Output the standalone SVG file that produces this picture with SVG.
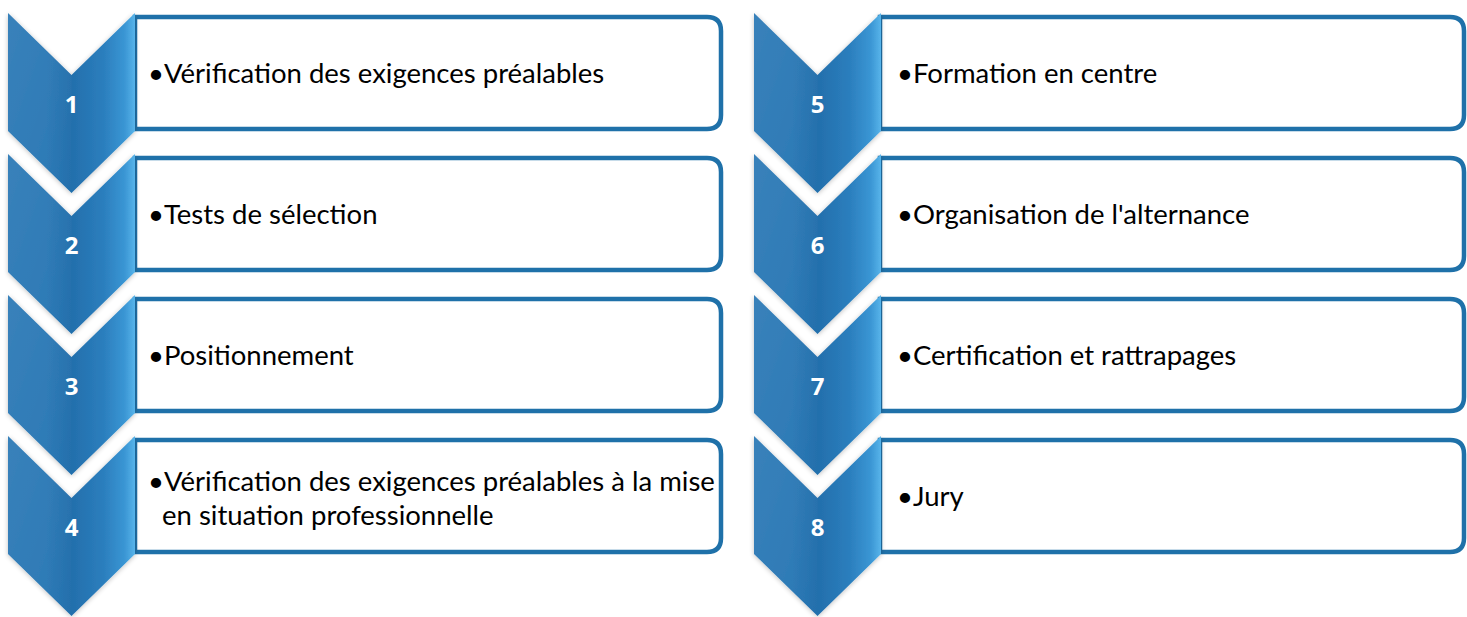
<svg xmlns="http://www.w3.org/2000/svg" width="1467" height="617" viewBox="0 0 1467 617">
<defs>
<linearGradient id="chev" x1="0" y1="0" x2="1" y2="0">
<stop offset="0" stop-color="#2A78B5"/>
<stop offset="0.3" stop-color="#2A78B5"/>
<stop offset="0.5" stop-color="#236FAC"/>
<stop offset="0.75" stop-color="#2B7EBD"/>
<stop offset="0.92" stop-color="#3A96D4"/>
<stop offset="1" stop-color="#58B4EA"/>
</linearGradient>
<linearGradient id="facet" x1="0" y1="0" x2="1" y2="1">
<stop offset="0" stop-color="#ffffff" stop-opacity="0.07"/>
<stop offset="1" stop-color="#ffffff" stop-opacity="0"/>
</linearGradient>
<path id="chevShape" d="M0,0 L63.5,62 L127,0 L127,118 L63.5,180 L0,118 Z"/>
<filter id="glow" x="-20%" y="-20%" width="140%" height="140%">
<feGaussianBlur in="SourceAlpha" stdDeviation="2.5"/>
<feOffset dx="0" dy="1"/>
<feComponentTransfer><feFuncA type="linear" slope="0.25"/></feComponentTransfer>
<feMerge><feMergeNode/><feMergeNode in="SourceGraphic"/></feMerge>
</filter>
</defs>
<style>
.box{fill:#ffffff;stroke:#1F71A9;stroke-width:4.5}
.chev{fill:url(#chev)}
.num{font-family:"Open Sans","Liberation Sans",sans-serif;font-weight:bold;font-size:24px;fill:#ffffff;text-anchor:middle}
.txt{font-family:"Lato","Open Sans",sans-serif;font-size:27.5px;fill:#000000}
</style>
<g id="connectors"></g>

<g id="step1">
<path class="box" d="M135,17 H707 Q721,17 721,31 V115 Q721,129 707,129 H135 Z"/>
<g transform="translate(8,13)" filter="url(#glow)"><use href="#chevShape" class="chev"/><path d="M0,0 L63.5,62 L63.5,180 L0,118 Z" fill="url(#facet)"/></g>
<text class="num" x="71.5" y="113">1</text>
<text class="txt" x="148" y="83">•Vérification des exigences préalables</text>
</g>
<g id="step2">
<path class="box" d="M135,158 H707 Q721,158 721,172 V256 Q721,270 707,270 H135 Z"/>
<g transform="translate(8,154)" filter="url(#glow)"><use href="#chevShape" class="chev"/><path d="M0,0 L63.5,62 L63.5,180 L0,118 Z" fill="url(#facet)"/></g>
<text class="num" x="71.5" y="254">2</text>
<text class="txt" x="148" y="224">•Tests de sélection</text>
</g>
<g id="step3">
<path class="box" d="M135,299 H707 Q721,299 721,313 V397 Q721,411 707,411 H135 Z"/>
<g transform="translate(8,295)" filter="url(#glow)"><use href="#chevShape" class="chev"/><path d="M0,0 L63.5,62 L63.5,180 L0,118 Z" fill="url(#facet)"/></g>
<text class="num" x="71.5" y="395">3</text>
<text class="txt" x="148" y="365">•Positionnement</text>
</g>
<g id="step4">
<path class="box" d="M135,440 H707 Q721,440 721,454 V538 Q721,552 707,552 H135 Z"/>
<g transform="translate(8,436)" filter="url(#glow)"><use href="#chevShape" class="chev"/><path d="M0,0 L63.5,62 L63.5,180 L0,118 Z" fill="url(#facet)"/></g>
<text class="num" x="71.5" y="536">4</text>
<text class="txt" x="148" y="491">•Vérification des exigences préalables à la mise</text>
<text class="txt" x="162" y="525">en situation professionnelle</text>
</g>

<g id="step5">
<path class="box" d="M880,17 H1450 Q1464,17 1464,31 V115 Q1464,129 1450,129 H880 Z"/>
<g transform="translate(754,13)" filter="url(#glow)"><use href="#chevShape" class="chev"/><path d="M0,0 L63.5,62 L63.5,180 L0,118 Z" fill="url(#facet)"/></g>
<text class="num" x="817.5" y="113">5</text>
<text class="txt" x="897" y="83">•Formation en centre</text>
</g>
<g id="step6">
<path class="box" d="M880,158 H1450 Q1464,158 1464,172 V256 Q1464,270 1450,270 H880 Z"/>
<g transform="translate(754,154)" filter="url(#glow)"><use href="#chevShape" class="chev"/><path d="M0,0 L63.5,62 L63.5,180 L0,118 Z" fill="url(#facet)"/></g>
<text class="num" x="817.5" y="254">6</text>
<text class="txt" x="897" y="224">•Organisation de l'alternance</text>
</g>
<g id="step7">
<path class="box" d="M880,299 H1450 Q1464,299 1464,313 V397 Q1464,411 1450,411 H880 Z"/>
<g transform="translate(754,295)" filter="url(#glow)"><use href="#chevShape" class="chev"/><path d="M0,0 L63.5,62 L63.5,180 L0,118 Z" fill="url(#facet)"/></g>
<text class="num" x="817.5" y="395">7</text>
<text class="txt" x="897" y="365">•Certification et rattrapages</text>
</g>
<g id="step8">
<path class="box" d="M880,440 H1450 Q1464,440 1464,454 V538 Q1464,552 1450,552 H880 Z"/>
<g transform="translate(754,436)" filter="url(#glow)"><use href="#chevShape" class="chev"/><path d="M0,0 L63.5,62 L63.5,180 L0,118 Z" fill="url(#facet)"/></g>
<text class="num" x="817.5" y="536">8</text>
<text class="txt" x="897" y="506">•Jury</text>
</g>
</svg>
